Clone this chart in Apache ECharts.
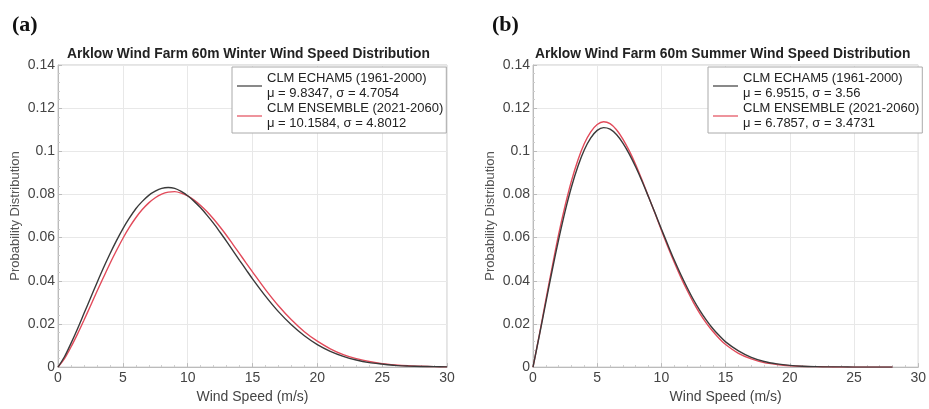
<!DOCTYPE html>
<html>
<head>
<meta charset="utf-8">
<script src="https://cdn.jsdelivr.net/npm/echarts@6/dist/echarts.min.js"></script>
<style>
html,body{margin:0;padding:0;background:#fff;}
#chart{width:929px;height:409px;}
</style>
</head>
<body>
<div id="chart"></div>
<script>
// ---- data ----
var windWinter = [0,0.5,1,1.5,2,2.5,3,3.5,4,4.5,5,5.5,6,6.5,7,7.5,8,8.5,9,9.5,10,10.5,11,11.5,12,12.5,13,13.5,14,14.5,15,16,17,18,19,20,21,22,23,24,25,26,27,28,29,30];
var winterEcham = [0,0.0048,0.0110,0.0177,0.0248,0.0319,0.0390,0.0459,0.0524,0.0585,0.0641,0.0690,0.0734,0.0768,0.0796,0.0815,0.0828,0.0832,0.0828,0.0814,0.0794,0.0768,0.0738,0.0703,0.0666,0.0625,0.0583,0.0539,0.0495,0.0452,0.0409,0.0329,0.0257,0.0196,0.0145,0.0104,0.0073,0.0050,0.0033,0.0021,0.0014,0.0008,0.0005,0.0003,0.0002,0.0001];
var winterEnsemble = [0,0.0039,0.0093,0.0153,0.0217,0.0283,0.0350,0.0415,0.0479,0.0539,0.0596,0.0647,0.0692,0.0730,0.0761,0.0785,0.0802,0.0811,0.0813,0.0806,0.0793,0.0774,0.0749,0.0720,0.0686,0.0649,0.0610,0.0568,0.0526,0.0483,0.0441,0.0359,0.0284,0.0219,0.0164,0.0120,0.0085,0.0058,0.0039,0.0026,0.0016,0.0010,0.0006,0.0004,0.0002,0.0001];

var windSummer = [0,0.5,1,1.5,2,2.5,3,3.5,4,4.5,5,5.5,6,6.5,7,7.5,8,8.5,9,9.5,10,10.5,11,11.5,12,12.5,13,13.5,14,14.5,15,16,17,18,19,20,21,22,23,24,25,26,27,28];
var summerEcham = [0,0.0148,0.0300,0.0450,0.0592,0.0722,0.0836,0.0931,0.1007,0.1062,0.1097,0.1110,0.1103,0.1078,0.1038,0.0987,0.0927,0.0860,0.0788,0.0715,0.0640,0.0567,0.0496,0.0430,0.0369,0.0312,0.0262,0.0218,0.0179,0.0146,0.0117,0.0075,0.0045,0.0026,0.0015,0.0008,0.0004,0.0002,0.0001,0.0001,0,0,0,0];
var summerEnsemble = [0,0.0152,0.0312,0.0466,0.0616,0.0748,0.0864,0.0960,0.1036,0.1090,0.1124,0.1137,0.1128,0.1100,0.1057,0.1002,0.0938,0.0866,0.0790,0.0713,0.0634,0.0558,0.0486,0.0418,0.0356,0.0299,0.0248,0.0204,0.0166,0.0133,0.0105,0.0064,0.0038,0.0021,0.0012,0.0006,0.0003,0.0002,0.0001,0,0,0,0,0];

var panelLabels = ['(a)', '(b)'];
var panelTitles = ['Arklow Wind Farm 60m Winter Wind Speed Distribution', 'Arklow Wind Farm 60m Summer Wind Speed Distribution'];
var legendEcham = ['CLM ECHAM5 (1961-2000)', 'CLM ECHAM5 (1961-2000)'];
var legendEnsemble = ['CLM ENSEMBLE (2021-2060)', 'CLM ENSEMBLE (2021-2060)'];
var statsEcham = ['\u03bc = 9.8347, \u03c3 = 4.7054', '\u03bc = 6.9515, \u03c3 = 3.56'];
var statsEnsemble = ['\u03bc = 10.1584, \u03c3 = 4.8012', '\u03bc = 6.7857, \u03c3 = 3.4731'];
var xTicks = [0, 5, 10, 15, 20, 25, 30];
var yTicks = [0, 0.02, 0.04, 0.06, 0.08, 0.1, 0.12, 0.14];

// ---- build ----
function pairs(xs, ys) { return xs.map(function (x, i) { return [x, ys[i]]; }); }

var FONT = '"Liberation Sans", Arial, sans-serif';
var BLACK = '#3a3a3a';
var RED = '#e24a5a';

var grids = [
  { left: 58, top: 65, width: 389, height: 307 },
  { left: 533, top: 65, width: 389, height: 307 }
];

function xAxis(i) {
  return {
    type: 'value', gridIndex: i, min: 0, max: 30, interval: 5,
    name: 'Wind Speed (m/s)', nameLocation: 'middle', nameGap: 19,
    nameTextStyle: { fontFamily: FONT, fontSize: 14, color: '#444' },
    axisLine: { show: true, lineStyle: { color: '#bbb', width: 1 } },
    axisTick: { show: true, inside: true, length: 4, lineStyle: { color: '#bbb' } },
    minorTick: { show: true, splitNumber: 5, length: 2, lineStyle: { color: '#ccc' } },
    axisLabel: { fontFamily: FONT, fontSize: 14, color: '#444', margin: 4,
      formatter: function (v) { return xTicks.indexOf(v) >= 0 ? String(v) : ''; } },
    splitLine: { show: true, lineStyle: { color: '#e8e8e8', width: 1 } }
  };
}
function yAxis(i) {
  return {
    type: 'value', gridIndex: i, min: 0, max: 0.14, interval: 0.02,
    name: 'Probability Distribution', nameLocation: 'middle', nameGap: 36,
    nameTextStyle: { fontFamily: FONT, fontSize: 13, color: '#555' },
    axisLine: { show: true, lineStyle: { color: '#bbb', width: 1 } },
    axisTick: { show: true, inside: true, length: 4, lineStyle: { color: '#bbb' } },
    minorTick: { show: true, splitNumber: 5, length: 2, lineStyle: { color: '#ccc' } },
    axisLabel: { fontFamily: FONT, fontSize: 14, color: '#444', margin: 3,
      formatter: function (v) {
        var r = Math.round(v * 100) / 100;
        return yTicks.indexOf(r) >= 0 ? String(r) : '';
      } },
    splitLine: { show: true, lineStyle: { color: '#e8e8e8', width: 1 } }
  };
}

var nameMap = {};
function seriesFor(i, key, label, stats, xs, ys, color) {
  nameMap[key] = label + '\n' + stats;
  return {
    name: key, type: 'line', xAxisIndex: i, yAxisIndex: i,
    data: pairs(xs, ys), smooth: 0.3,
    showSymbol: false, symbol: 'none',
    lineStyle: { color: color, width: 1.4 }, itemStyle: { color: color },
    z: color === RED ? 3 : 4, animation: false
  };
}

var series = [
  seriesFor(0, 'a1', legendEcham[0], statsEcham[0], windWinter, winterEcham, BLACK),
  seriesFor(0, 'a2', legendEnsemble[0], statsEnsemble[0], windWinter, winterEnsemble, RED),
  seriesFor(1, 'b1', legendEcham[1], statsEcham[1], windSummer, summerEcham, BLACK),
  seriesFor(1, 'b2', legendEnsemble[1], statsEnsemble[1], windSummer, summerEnsemble, RED)
];

function legend(left, keys) {
  return {
    left: left, top: 67, orient: 'vertical',
    data: keys, icon: 'rect', itemWidth: 25, itemHeight: 1.2, itemGap: 0, itemTextGap: 3,
    padding: [4, 3, 2, 5],
    backgroundColor: '#fff', borderColor: '#aaa', borderWidth: 1,
    selectedMode: false,
    formatter: function (n) { return nameMap[n]; },
    textStyle: { fontFamily: FONT, fontSize: 13, color: '#222', lineHeight: 15 }
  };
}

var option = {
  backgroundColor: '#fff',
  animation: false,
  title: [
    { text: panelLabels[0], left: 7, top: 9, textStyle: { fontFamily: '"Liberation Serif", "Times New Roman", serif', fontSize: 22, fontWeight: 'bold', color: '#111' } },
    { text: panelLabels[1], left: 487, top: 9, textStyle: { fontFamily: '"Liberation Serif", "Times New Roman", serif', fontSize: 22, fontWeight: 'bold', color: '#111' } },
    { text: panelTitles[0], left: 62, top: 42, padding: 5, textStyle: { fontFamily: FONT, fontSize: 13.8, fontWeight: 'bold', color: '#222' } },
    { text: panelTitles[1], left: 530, top: 42, padding: 5, textStyle: { fontFamily: FONT, fontSize: 13.8, fontWeight: 'bold', color: '#222' } }
  ],
  grid: grids.map(function (g) { return Object.assign({ show: true, borderColor: '#c8c8c8', borderWidth: 1, backgroundColor: 'transparent' }, g); }),
  xAxis: [xAxis(0), xAxis(1)],
  yAxis: [yAxis(0), yAxis(1)],
  legend: [legend(232, ['a1', 'a2']), legend(708, ['b1', 'b2'])],
  series: series
};

var chart = echarts.init(document.getElementById('chart'), null, { renderer: 'canvas' });
chart.setOption(option);
</script>
</body>
</html>
